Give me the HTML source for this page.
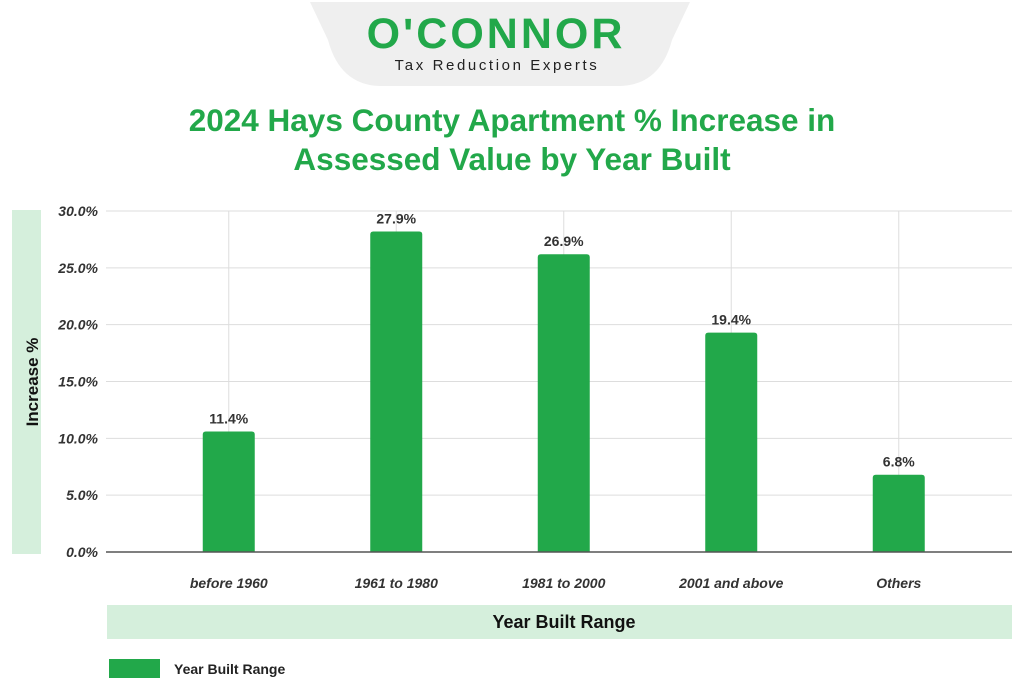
<!DOCTYPE html>
<html><head><meta charset="utf-8"><style>
body{margin:0;background:#fff;font-family:"Liberation Sans",sans-serif;}
#wrap{position:relative;width:1024px;height:699px;overflow:hidden;}
</style></head><body>
<div id="wrap">
<svg id="chart" width="1024" height="699">
 <path d="M310 2 L690 2 L672 40 Q660 85 620 86 L380 86 Q340 85 328 40 Z" fill="#efefef"/>
 <text x="496" y="48" text-anchor="middle" font-size="43" font-weight="bold" fill="#22a84a" letter-spacing="3">O'CONNOR</text>
 <text x="497" y="70" text-anchor="middle" font-size="15" fill="#222" letter-spacing="2.6">Tax Reduction Experts</text>
 <text x="512" y="131" text-anchor="middle" font-size="31.5" font-weight="bold" fill="#22a84a">2024 Hays County Apartment % Increase in</text>
 <text x="512" y="170" text-anchor="middle" font-size="31.5" font-weight="bold" fill="#22a84a">Assessed Value by Year Built</text>
 <rect x="12" y="210" width="29" height="344" fill="#d5efdc"/>
 <text transform="translate(38,382) rotate(-90)" text-anchor="middle" font-size="17" font-weight="bold" fill="#111">Increase %</text>
 <rect x="107" y="605" width="905" height="34" fill="#d5efdc"/>
 <text x="564" y="628" text-anchor="middle" font-size="18" font-weight="bold" fill="#111">Year Built Range</text>
 <rect x="109" y="659" width="51" height="19" fill="#22a84a"/>
 <text x="174" y="674" font-size="14" font-weight="bold" fill="#222">Year Built Range</text>
 <g id="plot"></g>
</svg>
</div>
<script>
const categories=["before 1960","1961 to 1980","1981 to 2000","2001 and above","Others"];
const values=[10.6,28.2,26.2,19.3,6.8];
const valueLabels=["11.4%","27.9%","26.9%","19.4%","6.8%"];
const yTicks=[0,5,10,15,20,25,30];
const NS="http://www.w3.org/2000/svg";
const g=document.getElementById('plot');
const y0=552,y1=211,yMax=30,xL=106,xR=1012,bandStart=145,bandW=167.5,barW=52;
function y(v){return y0-(v/yMax)*(y0-y1);}
function xc(i){return bandStart+bandW*(i+0.5);}
function mk(tag,attrs){const e=document.createElementNS(NS,tag);for(const k in attrs)e.setAttribute(k,attrs[k]);g.appendChild(e);return e;}
yTicks.forEach(t=>{
 if(t>0){const l=mk('line',{x1:xL,x2:xR,y1:y(t),y2:y(t),stroke:'#ddd','stroke-width':1});
 
 }
 const tx=mk('text',{x:98,y:y(t)+5,'text-anchor':'end','font-size':14,'font-weight':'bold','font-style':'italic',fill:'#333'});
 tx.textContent=t.toFixed(1)+'%';
 
 
});
categories.forEach((c,i)=>{
 const l=mk('line',{x1:xc(i),x2:xc(i),y1:y1,y2:y0,stroke:'#ddd','stroke-width':1});
 
 
});
categories.forEach((c,i)=>{
 const v=values[i];
 const b=mk('path',{d:`M${xc(i)-barW/2} ${y0} V${y(v)+3} Q${xc(i)-barW/2} ${y(v)} ${xc(i)-barW/2+3} ${y(v)} H${xc(i)+barW/2-3} Q${xc(i)+barW/2} ${y(v)} ${xc(i)+barW/2} ${y(v)+3} V${y0} Z`,fill:'#22a84a'});
 
 
 const lb=mk('text',{x:xc(i),y:y(v)-8,'text-anchor':'middle','font-size':14,'font-weight':'bold',fill:'#333'});
 lb.textContent=valueLabels[i];
 
 
 const xt=mk('text',{x:xc(i),y:588,'text-anchor':'middle','font-size':14,'font-weight':'bold','font-style':'italic',fill:'#333'});
 xt.textContent=c;
 
 
});
const ax=mk('line',{x1:xL,x2:xR,y1:y0,y2:y0,stroke:'#555','stroke-width':1.5});


</script>
</body></html>
